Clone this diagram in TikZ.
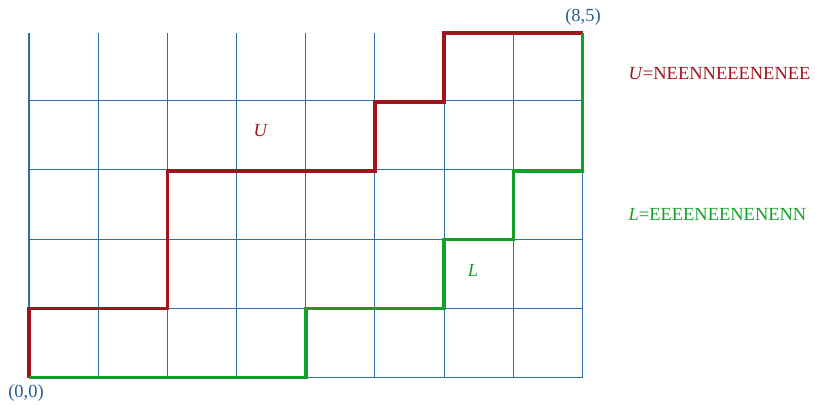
\documentclass[tikz,border=0pt]{standalone}
\usepackage{fontspec}
\setmainfont{Liberation Serif}
\definecolor{gridblue}{RGB}{46,110,170}
\definecolor{lblblue}{RGB}{40,90,150}
\definecolor{upred}{RGB}{160,20,30}
\definecolor{lowgreen}{RGB}{20,160,40}
\begin{document}
\begin{tikzpicture}[x=1cm,y=0.9958cm,
  gridline/.style={draw=gridblue,line width=0.45pt},
  upper/.style={draw=upred,line width=1.45pt,line join=miter},
  lower/.style={draw=lowgreen,line width=1.45pt,line join=miter},
  lbl/.style={font=\fontsize{7.6}{8.5}\selectfont,inner sep=0pt}]
\useasboundingbox (-0.419,-0.385) rectangle (11.360,5.479);
\draw[gridline] (0,0) grid (8,5);
\coordinate (o) at (0,0);
\coordinate (t) at (8,5);
\draw[upper] (o) -- (0,1) -- (2,1) -- (2,3) -- (5,3) -- (5,4) -- (6,4) -- (6,5) -- (t);
\draw[lower] (o) -- (4,0) -- (4,1) -- (6,1) -- (6,2) -- (7,2) -- (7,3) -- (8,3) -- (t);
\node[lbl,text=lblblue] (origin) at (-0.043,-0.225) {(0,0)};
\node[lbl,text=lblblue] (end) at (8.007,5.225) {(8,5)};
\node[lbl,text=upred] (ulab) at (3.349,3.582) {\textit{U}};
\node[lbl,text=lowgreen] (llab) at (6.417,1.55) {\textit{L}};
\node[lbl,text=upred] (uword) at (9.98,4.405) {\textit{U}=NEENNEEENENEE};
\node[lbl,text=lowgreen] (lword) at (9.95,2.373) {\textit{L}=EEEENEENENENN};
\end{tikzpicture}
\end{document}
